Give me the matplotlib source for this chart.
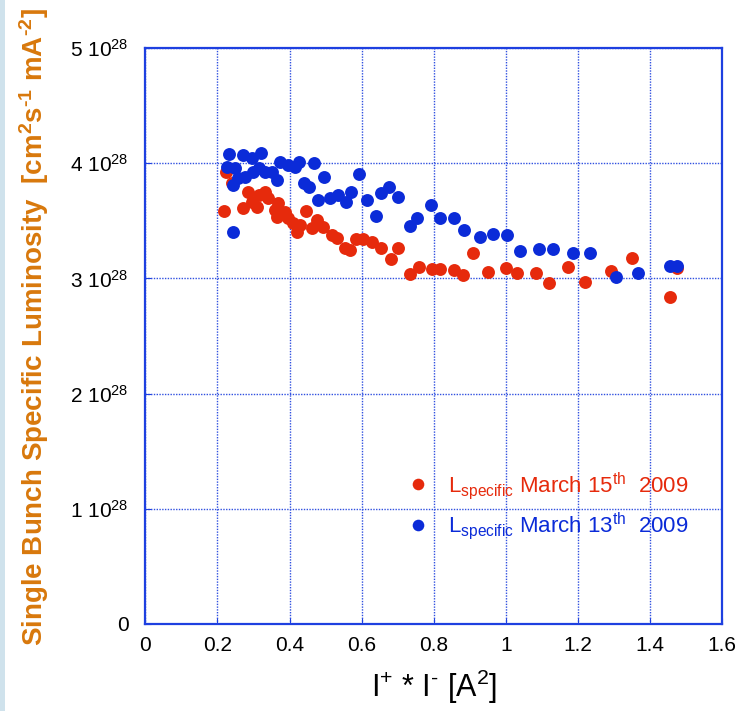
import matplotlib
matplotlib.use("Agg")
import matplotlib.pyplot as plt
from matplotlib.patches import Rectangle

plt.rcParams['font.family'] = ['Liberation Sans', 'DejaVu Sans']
plt.rcParams['mathtext.fontset'] = 'custom'
plt.rcParams['mathtext.rm'] = 'Liberation Sans'
plt.rcParams['mathtext.it'] = 'Liberation Sans:italic'
plt.rcParams['mathtext.bf'] = 'Liberation Sans:bold'
plt.rcParams['mathtext.default'] = 'regular'

# March 15th 2009 (red), luminosity in units of 1e28
x_mar15 = [0.218, 0.224, 0.240, 0.272, 0.286, 0.295, 0.309, 0.314, 0.332, 0.341,
           0.360, 0.369, 0.365, 0.388, 0.397, 0.411, 0.429, 0.420, 0.445, 0.462,
           0.476, 0.494, 0.517, 0.531, 0.554, 0.568, 0.584, 0.605, 0.628, 0.653,
           0.681, 0.702, 0.733, 0.759, 0.795, 0.818, 0.857, 0.881, 0.910, 0.951,
           1.000, 1.031, 1.084, 1.119, 1.173, 1.221, 1.292, 1.350, 1.474, 1.456]
y_mar15 = [3.585, 3.924, 3.826, 3.609, 3.753, 3.666, 3.622, 3.724, 3.753, 3.695,
           3.594, 3.652, 3.536, 3.579, 3.522, 3.478, 3.464, 3.405, 3.585, 3.435,
           3.507, 3.444, 3.377, 3.348, 3.261, 3.247, 3.339, 3.339, 3.319, 3.267,
           3.166, 3.267, 3.038, 3.099, 3.082, 3.082, 3.073, 3.030, 3.220, 3.053,
           3.088, 3.044, 3.044, 2.957, 3.096, 2.971, 3.067, 3.180, 3.088, 2.836]

# March 13th 2009 (blue)
x_mar13 = [0.232, 0.272, 0.295, 0.320, 0.226, 0.249, 0.244, 0.258, 0.277, 0.300,
           0.314, 0.332, 0.351, 0.365, 0.374, 0.397, 0.415, 0.427, 0.468, 0.440,
           0.454, 0.497, 0.480, 0.511, 0.534, 0.556, 0.570, 0.593, 0.614, 0.640,
           0.653, 0.676, 0.702, 0.733, 0.755, 0.792, 0.818, 0.857, 0.884, 0.929,
           0.964, 1.004, 1.040, 1.093, 1.132, 1.186, 1.234, 1.306, 1.368, 1.456,
           1.476, 0.244]
y_mar13 = [4.080, 4.071, 4.043, 4.086, 3.970, 3.956, 3.811, 3.869, 3.883, 3.926,
           3.956, 3.926, 3.926, 3.854, 4.013, 3.984, 3.970, 4.013, 4.004, 3.826,
           3.791, 3.878, 3.681, 3.695, 3.724, 3.666, 3.753, 3.904, 3.681, 3.542,
           3.739, 3.791, 3.709, 3.455, 3.527, 3.637, 3.527, 3.527, 3.416, 3.362,
           3.385, 3.377, 3.238, 3.253, 3.253, 3.223, 3.223, 3.015, 3.044, 3.110,
           3.110, 3.405]

x_ticks = [0, 0.2, 0.4, 0.6, 0.8, 1.0, 1.2, 1.4, 1.6]
x_ticklabels = ['0', '0.2', '0.4', '0.6', '0.8', '1', '1.2', '1.4', '1.6']
y_ticks = [0, 1, 2, 3, 4, 5]
y_ticklabels = ['0'] + [f'{v} 10$^{{28}}$' for v in y_ticks[1:]]

HY = '\u2010'  # plain hyphen, mathtext would turn '-' into a long minus

red = '#E62A0C'
blue = '#0B2BD8'
frame_blue = '#1E40E0'
orange = '#D8780C'

fig = plt.figure(figsize=(7.4, 7.11), dpi=100)
fig.patches.append(Rectangle((0, 0), 5 / 740, 1, transform=fig.transFigure,
                             facecolor='#CFE2EC', edgecolor='none'))
ax = fig.add_axes([0.1964, 0.1224, 0.7793, 0.8101])

ax.plot(x_mar15, y_mar15, 'o', color=red, markersize=9.3, markeredgewidth=0,
        label=r'L$_{specific}$ March 15$^{th}$  2009', zorder=3)
ax.plot(x_mar13, y_mar13, 'o', color=blue, markersize=9.3, markeredgewidth=0,
        label=r'L$_{specific}$ March 13$^{th}$  2009', zorder=3)

ax.set_xlim(0, 1.6)
ax.set_ylim(0, 5)
ax.set_xticks(x_ticks)
ax.set_xticklabels(x_ticklabels)
ax.set_yticks(y_ticks)
ax.set_yticklabels(y_ticklabels)
ax.tick_params(direction='in', length=4, color=frame_blue, labelsize=15,
               labelcolor='black')
ax.tick_params(axis='x', pad=9)
ax.tick_params(axis='y', pad=12)
ax.grid(True, color='#3050E0', linestyle=(0, (1, 1)), linewidth=1.0)
for s in ax.spines.values():
    s.set_color(frame_blue)
    s.set_linewidth(1.6)

ax.set_xlabel('I$^{+}$ * I$^{' + HY + '}$ [A$^{2}$]', fontsize=22, labelpad=9)
fig.text(0.046, 0.540,
         'Single Bunch Specific Luminosity  [cm$^{2}$s$^{' + HY + '1}$ mA$^{' + HY + '2}$]',
         rotation=90, ha='center', va='center', fontsize=20, fontweight='bold',
         color=orange)

ax.legend(loc='center left', bbox_to_anchor=(0.539, 0.288),
          bbox_transform=fig.transFigure, frameon=False, fontsize=16,
          handlelength=0.7, handletextpad=1.0, labelspacing=0.42,
          borderpad=0, labelcolor='markerfacecolor', markerscale=0.9)

fig.savefig('out.png', dpi=100)
